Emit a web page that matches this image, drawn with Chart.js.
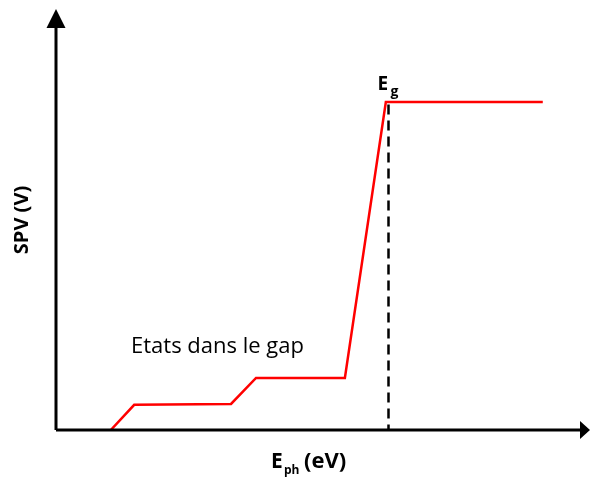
<!DOCTYPE html>
<html>
<head>
<meta charset="utf-8">
<script src="https://cdn.jsdelivr.net/npm/chart.js@4"></script>
<style>
  html, body { margin: 0; padding: 0; background: #fff; }
  #wrap { width: 590px; height: 477px; }
</style>
</head>
<body>
<div id="wrap"><canvas id="chart"></canvas></div>
<script>
// courbe SPV (unités arbitraires)
var spvX = [1.03, 1.47, 3.29, 3.76, 5.43, 6.20, 9.15];
var spvY = [0, 0.60, 0.62, 1.24, 1.24, 7.81, 7.81];
// ligne pointillée à Eg
var egX = [6.25, 6.25];
var egY = [7.75, 0];
var xRange = [0, 10];
var yRange = [0, 10];

var FONT = '"Open Sans", Lato, sans-serif';

function pts(xs, ys) {
  return xs.map(function (x, i) { return { x: x, y: ys[i] }; });
}

//axes avec flèches + textes
var decor = {
  id: 'decor',
  afterDraw: function (chart) {
    var ctx = chart.ctx, a = chart.chartArea;
    var sx = chart.scales.x;
    ctx.save();
    ctx.strokeStyle = '#000';
    ctx.fillStyle = '#000';
    ctx.lineWidth = 3;
    ctx.beginPath();
    ctx.moveTo(a.left, a.bottom);
    ctx.lineTo(a.left, a.top + 15);
    ctx.moveTo(a.left, a.bottom);
    ctx.lineTo(a.right - 8, a.bottom);
    ctx.stroke();
    // flèche verticale
    ctx.beginPath();
    ctx.moveTo(a.left, a.top - 1);
    ctx.lineTo(a.left - 9.5, a.top + 18);
    ctx.lineTo(a.left + 9.5, a.top + 18);
    ctx.closePath();
    ctx.fill();
    // flèche horizontale
    ctx.beginPath();
    ctx.moveTo(a.right + 2, a.bottom);
    ctx.lineTo(a.right - 8, a.bottom - 9);
    ctx.lineTo(a.right - 8, a.bottom + 9);
    ctx.closePath();
    ctx.fill();

    // texte
    ctx.textBaseline = 'alphabetic';
    ctx.textAlign = 'left';
    ctx.font = '22px ' + FONT;
    ctx.fillText('Etats dans le gap', 131, 353);

    // E_g
    var ex = sx.getPixelForValue(egX[0]);
    ctx.font = 'bold 19px ' + FONT;
    ctx.fillText('E', ex - 11, 90);
    ctx.font = 'bold 14px ' + FONT;
    ctx.fillText('g', ex + 2, 96);

    // E_ph (eV)
    ctx.font = 'bold 21px ' + FONT;
    ctx.fillText('E', 271, 468);
    ctx.font = 'bold 12px ' + FONT;
    ctx.fillText('ph', 284, 474);
    ctx.font = 'bold 22px ' + FONT;
    ctx.fillText('(eV)', 304, 468);

    // SPV (V)
    ctx.translate(28, 220);
    ctx.rotate(-Math.PI / 2);
    ctx.textAlign = 'center';
    ctx.font = 'bold 20px ' + FONT;
    ctx.fillText('SPV (V)', 0, 0);
    ctx.restore();
  }
};

new Chart(document.getElementById('chart'), {
  type: 'line',
  data: {
    datasets: [
      {
        data: pts(spvX, spvY),
        borderColor: '#ff0000',
        borderWidth: 2.5,
        pointRadius: 0,
        tension: 0,
        fill: false
      },
      {
        data: pts(egX, egY),
        borderColor: '#000',
        borderWidth: 2.5,
        borderDash: [10, 6],
        pointRadius: 0,
        fill: false
      }
    ]
  },
  options: {
    responsive: true,
    maintainAspectRatio: false,
    animation: false,
    layout: { padding: { left: 56, top: 10, right: 2, bottom: 47 } },
    plugins: { legend: { display: false }, tooltip: { enabled: false } },
    scales: {
      x: { type: 'linear', min: xRange[0], max: xRange[1], display: false },
      y: { type: 'linear', min: yRange[0], max: yRange[1], display: false }
    }
  },
  plugins: [decor]
});
</script>
</body>
</html>
